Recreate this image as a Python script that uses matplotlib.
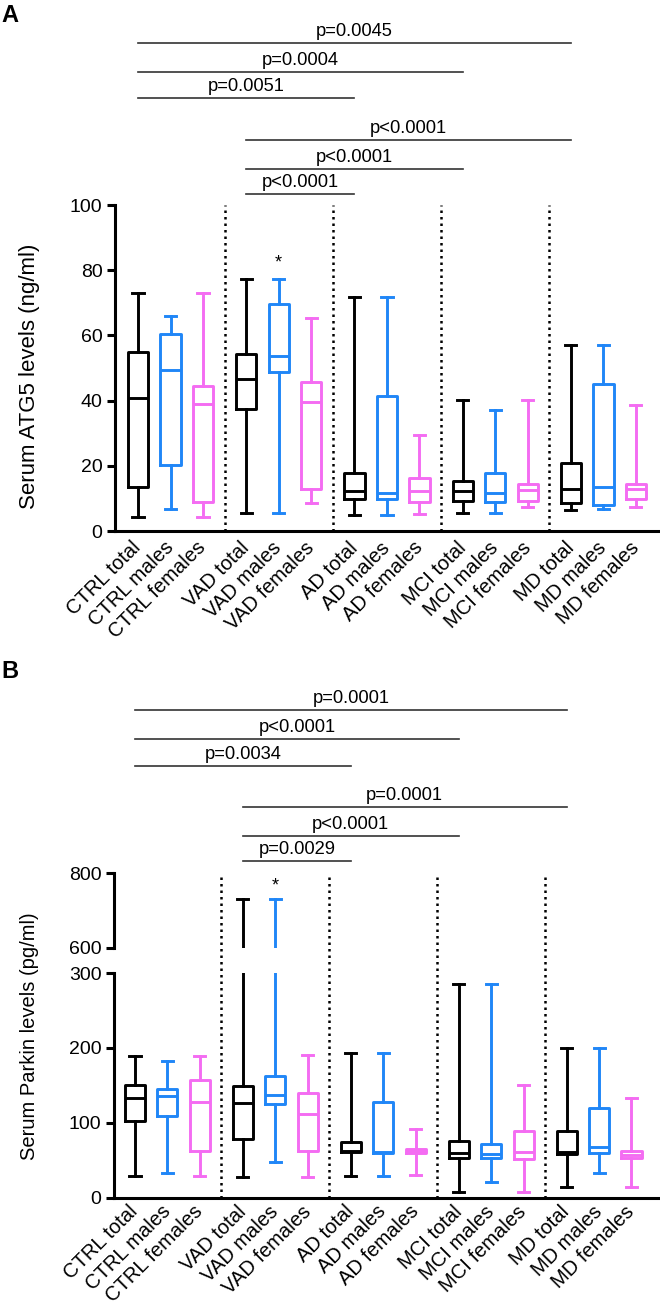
import matplotlib.pyplot as plt

plt.rcParams['font.family'] = ['Liberation Sans', 'DejaVu Sans']

labels = ['CTRL total', 'CTRL males', 'CTRL females',
          'VAD total', 'VAD males', 'VAD females',
          'AD total', 'AD males', 'AD females',
          'MCI total', 'MCI males', 'MCI females',
          'MD total', 'MD males', 'MD females']
box_colors = ['black', '#2086f7', '#f46cf2'] * 5

# Panel A - serum ATG5 (ng/ml), box stats
atg5_whislo = [4.2, 6.6, 4.2, 5.4, 5.4, 8.5, 5.0, 5.0, 5.1, 5.5, 5.5, 7.5, 6.4, 6.6, 7.5]
atg5_q1 = [13.6, 20.2, 9.0, 37.3, 48.8, 12.9, 9.7, 9.7, 8.8, 9.2, 8.8, 9.3, 8.5, 7.9, 9.8]
atg5_med = [40.8, 49.3, 39.0, 46.5, 53.8, 39.7, 12.4, 11.6, 12.3, 12.3, 11.6, 12.6, 12.8, 13.6, 12.9]
atg5_q3 = [54.8, 60.4, 44.5, 54.3, 69.7, 45.6, 17.9, 41.5, 16.2, 15.4, 17.9, 14.5, 21.0, 45.0, 14.5]
atg5_whishi = [73.1, 66.0, 73.1, 77.3, 77.3, 65.3, 71.8, 71.8, 29.4, 40.3, 37.1, 40.3, 57.0, 57.0, 38.7]

# Panel B - serum Parkin (pg/ml)
parkin_whislo = [29, 32.6, 29, 27.2, 47.7, 27.2, 29.4, 29, 29.9, 7.2, 21.4, 7.2, 13.9, 33.4, 13.9]
parkin_q1 = [102.8, 108.6, 62.3, 78.4, 125.5, 62.3, 60.5, 60, 60, 52.6, 53.4, 52.1, 59, 60, 52.6]
parkin_med = [133.5, 135.8, 127.3, 126.9, 137.6, 111.8, 63, 61.4, 62.8, 60, 58.3, 60.6, 60.5, 68, 57.4]
parkin_q3 = [150, 144.7, 157.6, 149, 162.5, 140.2, 74.8, 127.3, 65.4, 75.3, 72, 88.6, 89.5, 119.3, 62.3]
parkin_whishi = [189.6, 182.5, 189.6, 732, 732, 190.5, 193, 193, 91.3, 285, 285, 150.5, 200.3, 200.3, 133.5]

# comparisons: (group from, group to, label)
atg5_pvals = [(0, 2, 'p=0.0051'), (0, 3, 'p=0.0004'), (0, 4, 'p=0.0045'),
              (1, 2, 'p<0.0001'), (1, 3, 'p<0.0001'), (1, 4, 'p<0.0001')]
parkin_pvals = [(0, 2, 'p=0.0034'), (0, 3, 'p<0.0001'), (0, 4, 'p=0.0001'),
                (1, 2, 'p=0.0029'), (1, 3, 'p<0.0001'), (1, 4, 'p=0.0001')]

gap = 3.33
pos = [g * gap + j for g in range(5) for j in range(3)]
sep = [g * gap + 2 + (gap - 2) / 2 for g in range(4)]


def make_stats(lo, q1, med, q3, hi):
    return [dict(whislo=a, q1=b, med=c, q3=d, whishi=e)
            for a, b, c, d, e in zip(lo, q1, med, q3, hi)]


def draw_boxes(ax, stats):
    for p, s, c in zip(pos, stats, box_colors):
        ax.bxp([s], positions=[p], widths=0.62, capwidths=0.34, showfliers=False,
               boxprops=dict(color=c, lw=2.1), medianprops=dict(color=c, lw=2.1),
               whiskerprops=dict(color=c, lw=2.1), capprops=dict(color=c, lw=2.1),
               manage_ticks=False)


def style_axis(ax):
    for s in ['top', 'right']:
        ax.spines[s].set_visible(False)
    ax.spines['left'].set_linewidth(2.2)
    ax.spines['bottom'].set_linewidth(2.2)
    ax.tick_params(axis='y', length=6, width=2.2, labelsize=14, pad=3)


def pval_bars(ax, pvals, levels, off):
    for (a, b, txt), y in zip(pvals, levels):
        x0, x1 = pos[a * 3], pos[b * 3]
        ax.plot([x0, x1], [y, y], color='#333333', lw=1.2, clip_on=False)
        ax.text((x0 + x1) / 2, y + off, txt, ha='center', va='baseline',
                fontsize=13.2, clip_on=False)


fig = plt.figure(figsize=(6.6, 13.06), dpi=100)

# ---- panel A
axA = fig.add_axes([115 / 660, 775 / 1306, 545 / 660, 326 / 1306])
draw_boxes(axA, make_stats(atg5_whislo, atg5_q1, atg5_med, atg5_q3, atg5_whishi))
axA.vlines(sep, 0, 100, colors='black', linestyles=(0, (1, 1.6)), lw=1.8)
axA.set_xlim(-0.708, 16.06)
axA.set_ylim(0, 100)
axA.set_yticks([0, 20, 40, 60, 80, 100])
style_axis(axA)
axA.set_xticks(pos)
axA.set_xticklabels(labels, rotation=45, ha='right', va='center',
                    rotation_mode='anchor', fontsize=14.5)
axA.tick_params(axis='x', length=0, pad=10)
axA.text(pos[4], 82.3, '*', ha='center', va='center', fontsize=13)
pval_bars(axA, atg5_pvals, [132.8, 140.8, 149.7, 103.4, 111.0, 119.9], 2.2)

# ---- panel B (broken axis)
bl, bw = 114 / 660, 546 / 660
axB = fig.add_axes([bl, 108.3 / 1306, bw, 224.7 / 1306])
axT = fig.add_axes([bl, 358 / 1306, bw, 75 / 1306])
stB = make_stats(parkin_whislo, parkin_q1, parkin_med, parkin_q3, parkin_whishi)
draw_boxes(axB, stB)
draw_boxes(axT, stB)
axB.vlines(sep, 0, 433.5, colors='black', linestyles=(0, (1, 1.6)), lw=1.8,
           clip_on=False)
for ax in (axB, axT):
    ax.set_xlim(-0.648, 16.2)
    style_axis(ax)
axB.set_ylim(0, 300)
axB.set_yticks([0, 100, 200, 300])
axT.set_ylim(600, 800)
axT.set_yticks([600, 800])
axT.spines['bottom'].set_visible(False)
axT.set_xticks([])
axT.patch.set_alpha(0)
axB.set_xticks(pos)
axB.set_xticklabels(labels, rotation=45, ha='right', va='center',
                    rotation_mode='anchor', fontsize=14.5)
axB.tick_params(axis='x', length=0, pad=8)
axT.text(pos[4], 765, '*', ha='center', va='center', fontsize=13)
pval_bars(axB, parkin_pvals, [576.4, 612.4, 651.1, 449.5, 482.9, 521.6], 9.3)

fig.text(30 / 660, 1 - 376 / 1306, 'Serum ATG5 levels (ng/ml)', rotation=90,
         ha='center', va='center', fontsize=16)
fig.text(30 / 660, 1 - 1036 / 1306, 'Serum Parkin levels (pg/ml)', rotation=90,
         ha='center', va='center', fontsize=14.5)
fig.text(0.002, 1 - 15 / 1306, 'A', fontsize=17, fontweight='bold', va='center')
fig.text(0.002, 1 - 672 / 1306, 'B', fontsize=17, fontweight='bold', va='center')

fig.savefig('out.png', dpi=100)
